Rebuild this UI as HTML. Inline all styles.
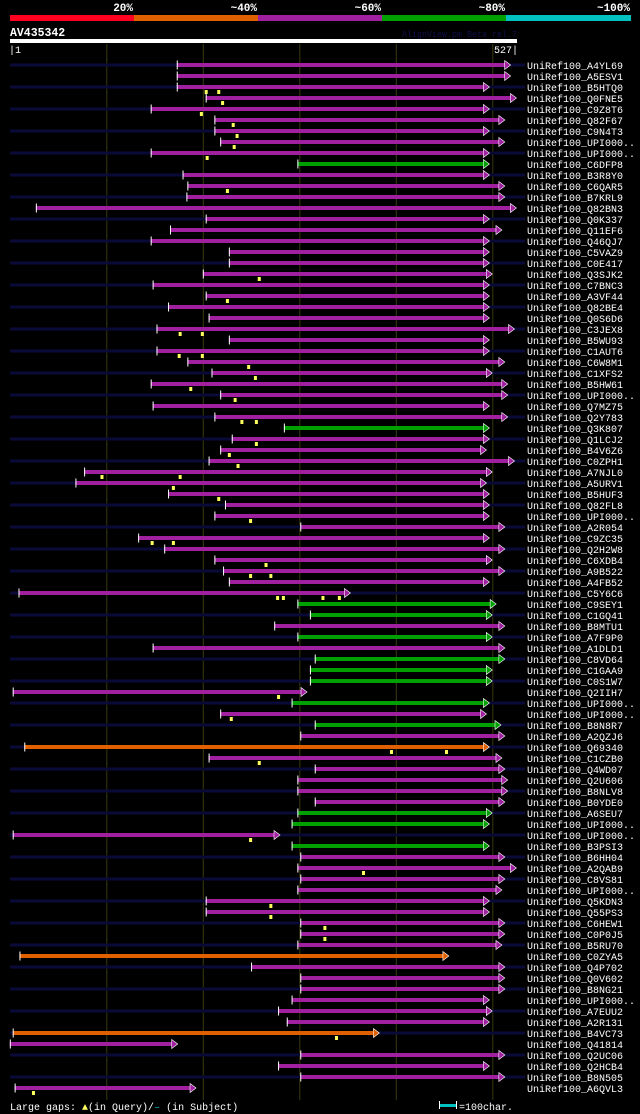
<!DOCTYPE html>
<html><head><meta charset="utf-8"><style>
html,body{margin:0;padding:0;background:#000;}
svg{display:block;}
text{font-family:"Liberation Mono",monospace;}
</style></head><body>
<svg id="chart" width="640" height="1114" viewBox="0 0 640 1114" xmlns="http://www.w3.org/2000/svg">
<rect x="0" y="0" width="640" height="1114" fill="#000"/>
<g>
<rect x="10" y="15" width="124" height="6" fill="#ff0020"/>
<rect x="134" y="15" width="124" height="6" fill="#e06000"/>
<rect x="258" y="15" width="124" height="6" fill="#a020a0"/>
<rect x="382" y="15" width="124" height="6" fill="#00a000"/>
<rect x="506" y="15" width="125" height="6" fill="#00c0c0"/>
<g fill="#fff" font-size="11" font-weight="bold" text-anchor="end">
<text x="133" y="11">20%</text>
<text x="257" y="11">~40%</text>
<text x="381" y="11">~60%</text>
<text x="505" y="11">~80%</text>
<text x="630" y="11">~100%</text>
</g></g>
<text x="10" y="36" fill="#fff" font-size="11.5" font-weight="bold">AV435342</text>
<text x="402" y="37" fill="#10104a" font-size="9" textLength="115" lengthAdjust="spacingAndGlyphs">AlignView.pm Beta rel.7</text>
<rect x="10" y="39" width="507" height="4" fill="#fff"/>
<text x="9" y="53" fill="#fff" font-size="10">|1</text>
<text x="518" y="53" fill="#fff" font-size="10" text-anchor="end">527|</text>
<g id="grid"></g>
<g id="rows"></g>
<g>
<text x="10" y="1110" fill="#fff" font-size="10">Large gaps: <tspan fill="#ffff60">▲</tspan>(in Query)/<tspan fill="#00c0c0">–</tspan> (in Subject)</text>
<rect x="439" y="1104" width="18" height="3" fill="#00c0c0"/>
<rect x="439" y="1101" width="1" height="8" fill="#fff"/>
<rect x="456" y="1101" width="1" height="8" fill="#fff"/>
<text x="459" y="1110" fill="#fff" font-size="10">=100char.</text>
</g>
</svg>
<script>
const names=["A4YL69","A5ESV1","B5HTQ0","Q0FNE5","C9Z8T6","Q82F67","C9N4T3","UPI000..","UPI000..","C6DFP8","B3R8Y0","C6QAR5","B7KRL9","Q82BN3","Q0K337","Q11EF6","Q46QJ7","C5VAZ9","C0E417","Q3SJK2","C7BNC3","A3VF44","Q82BE4","Q0S6D6","C3JEX8","B5WU93","C1AUT6","C6W8M1","C1XFS2","B5HW61","UPI000..","Q7MZ75","Q2Y783","Q3K807","Q1LCJ2","B4V6Z6","C0ZPH1","A7NJL0","A5URV1","B5HUF3","Q82FL8","UPI000..","A2R054","C9ZC35","Q2H2W8","C6XDB4","A9B522","A4FB52","C5Y6C6","C9SEY1","C1GQ41","B8MTU1","A7F9P0","A1DLD1","C8VD64","C1GAA9","C0S1W7","Q2IIH7","UPI000..","UPI000..","B8N8R7","A2QZJ6","Q69340","C1CZB0","Q4WD07","Q2U606","B8NLV8","B0YDE0","A6SEU7","UPI000..","UPI000..","B3PSI3","B6HH04","A2QAB9","C8VS81","UPI000..","Q5KDN3","Q55PS3","C6HEW1","C0P0J5","B5RU70","C0ZYA5","Q4P702","Q0V602","B8NG21","UPI000..","A7EUU2","A2R131","B4VC73","Q41814","Q2UC06","Q2HCB4","B8N505","A6QVL3"];
const starts=[174,174,174,204,147,213,213,219,147,299,180,185,184,28,204,167,147,228,228,201,149,204,165,207,153,228,153,185,210,147,219,149,213,285,231,219,207,78,69,165,224,213,302,134,161,213,222,228,10,299,312,275,299,149,317,312,312,4,293,219,317,302,16,207,317,299,299,317,299,293,4,293,302,299,302,299,204,204,302,302,299,11,251,302,302,293,279,288,4,1,302,279,302,6];
const ends=[520,520,498,526,498,514,498,514,498,498,498,514,514,526,498,511,498,498,498,501,498,498,498,498,524,498,498,514,501,517,517,498,517,498,498,495,524,501,495,498,498,498,514,498,514,501,514,498,354,505,501,514,501,514,514,501,501,309,498,495,510,514,498,511,514,517,517,514,501,498,281,498,514,526,514,511,498,498,514,514,511,456,514,514,514,498,501,498,384,175,514,498,514,194];
const colorKeys="MMMMMMMMMGMMMMMMMMMMMMMMMMMMMMMMMGMMMMMMMMMMMMMMMGGMGMGGGMGMGMOMMMMMGGMGMMMMMMMMMOMMMMMMOMMMMM";
const darkFlags="1010101010101010101010101010101010101010101010101010101010101010101010101010101010101010101010";
const darkRows=[1,0,1,0,1,0,1,0,1,0,1,0,1,0,1,0,1,0,1,0,1,0,1,0,1,0,1,0,1,0,1,0,1,0,1,0,1,0,1,0,1,0,1,0,1,0,1,0,1,0,1,0,1,0,1,0,1,0,1,0,1,0,1,0,1,0,1,0,1,0,1,0,1,0,1,0,1,0,1,0,1,0,1,0,1,0,1,0,1,0,1,0,1,0];
const queryGaps=[[],[],[204,217],[221],[199],[232],[236],[233],[205],[],[],[226],[],[],[],[],[],[],[],[259],[],[226],[],[],[177,200],[],[176,200],[248],[255],[188],[234],[],[241,256],[],[256],[228],[237],[96,177],[170],[217],[],[250],[],[148,170],[],[266],[250,271],[],[278,284,325,342],[],[],[],[],[],[],[],[],[279],[],[230],[],[],[396,453],[259],[],[],[],[],[],[],[250],[],[],[367],[],[],[271],[271],[327],[327],[],[],[],[],[],[],[],[],[339],[],[],[],[],[25]];
const palette={M:"#a020a0",G:"#00a000",O:"#e06000"};
const gridChars=[101,201,301,401,501];
const NS="http://www.w3.org/2000/svg";
function xScale(c){return 9.8+(c-1)*0.965;}
function yRow(i){return 65+i*11;}
function mk(tag,attrs,parent){const e=document.createElementNS(NS,tag);for(const k in attrs)e.setAttribute(k,attrs[k]);parent.appendChild(e);return e;}
const grid=document.getElementById('grid');
gridChars.forEach(function(c){
  const l=mk('line',{x1:xScale(c)+0.5,x2:xScale(c)+0.5,y1:44,y2:1100,stroke:"#3a3a0c","stroke-width":1},grid);
  
  
});
const rows=document.getElementById('rows');
names.forEach(function(n,i){
  const y=yRow(i);
  const g=mk('g',{},rows);
  
  
  if(darkRows[i]){
    const d=mk('rect',{x:10,y:y-1.5,width:515,height:3,fill:"#0a0a38"},g);
    
    
  }
  const x0=xScale(starts[i]),x1=xScale(ends[i]);
  const col=palette[colorKeys[i]];
  const b=mk('rect',{x:x0,y:y-2,width:Math.max(0,x1-6-x0),height:4,fill:col},g);
  
  
  const t=mk('rect',{x:x0,y:y-4.5,width:1,height:9,fill:"#fff"},g);
  
  
  const a=mk('polygon',{points:(x1-6)+","+(y-4.5)+" "+x1+","+y+" "+(x1-6)+","+(y+4.5),fill:col,stroke:"#fff","stroke-width":0.6},g);
  
  
  queryGaps[i].forEach(function(q){
    const m=mk('rect',{x:xScale(q)-1,y:y+3,width:3,height:4,fill:"#ffff60"},g);
    
    
  });
  const lb=mk('text',{x:527,y:y+4,fill:"#fff","font-size":10},g);
  lb.textContent="UniRef100_"+n;
  
  
});
</script>
</body></html>
